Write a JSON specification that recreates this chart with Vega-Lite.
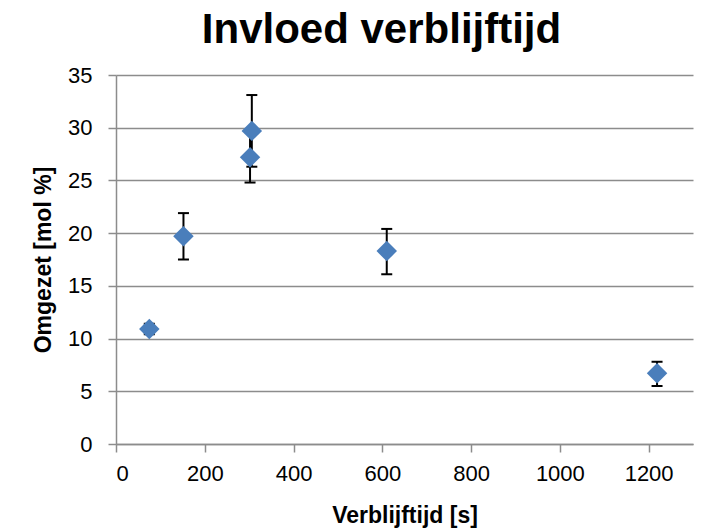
{
  "$schema": "https://vega.github.io/schema/vega-lite/v6.json",
  "width": 577,
  "height": 369,
  "autosize": "none",
  "padding": {"left": 116, "top": 75, "right": 29, "bottom": 87},
  "background": "white",
  "title": {
    "text": "Invloed verblijftijd",
    "font": "Liberation Sans",
    "fontSize": 42,
    "fontWeight": "bold",
    "color": "#000000",
    "anchor": "middle",
    "frame": "group",
    "dx": -23,
    "offset": 12
  },
  "config": {
    "view": {"stroke": null},
    "axis": {
      "domainColor": "#8c8c8c",
      "domainWidth": 1.5,
      "tickColor": "#8c8c8c",
      "tickWidth": 1.5,
      "tickSize": 8,
      "labelFont": "Liberation Sans",
      "labelFontSize": 22,
      "labelColor": "#000000",
      "titleFont": "Liberation Sans",
      "titleFontSize": 23,
      "titleFontWeight": "bold",
      "titleColor": "#000000",
      "gridColor": "#8c8c8c",
      "gridWidth": 1.5
    }
  },
  "data": {
    "values": [
      {"t": 75, "y": 10.9, "lo": 10.4, "hi": 11.4},
      {"t": 152, "y": 19.7, "lo": 17.5, "hi": 21.9},
      {"t": 302, "y": 27.2, "lo": 24.8, "hi": 29.6},
      {"t": 306, "y": 29.7, "lo": 26.3, "hi": 33.1},
      {"t": 610, "y": 18.3, "lo": 16.1, "hi": 20.4},
      {"t": 1219, "y": 6.7, "lo": 5.5, "hi": 7.8}
    ]
  },
  "encoding": {
    "x": {
      "field": "t",
      "type": "quantitative",
      "scale": {"domain": [0, 1300], "nice": false, "zero": true},
      "axis": {
        "title": "Verblijftijd [s]",
        "format": "d",
        "values": [0, 200, 400, 600, 800, 1000, 1200],
        "grid": false,
        "labelPadding": 11,
        "titlePadding": 20
      }
    }
  },
  "layer": [
    {
      "mark": {"type": "rule", "color": "#000000", "strokeWidth": 2},
      "encoding": {
        "y": {
          "field": "lo",
          "type": "quantitative",
          "scale": {"domain": [0, 35], "nice": false},
          "axis": {
            "title": "Omgezet [mol %]",
            "values": [0, 5, 10, 15, 20, 25, 30, 35],
            "grid": true,
            "labelPadding": 16,
            "titlePadding": 12
          }
        },
        "y2": {"field": "hi"}
      }
    },
    {
      "mark": {"type": "tick", "orient": "horizontal", "color": "#000000", "size": 11, "thickness": 2, "opacity": 1},
      "encoding": {"y": {"field": "lo", "type": "quantitative"}}
    },
    {
      "mark": {"type": "tick", "orient": "horizontal", "color": "#000000", "size": 11, "thickness": 2, "opacity": 1},
      "encoding": {"y": {"field": "hi", "type": "quantitative"}}
    },
    {
      "mark": {"type": "point", "shape": "diamond", "filled": true, "size": 420, "color": "#4a7ebb", "opacity": 1},
      "encoding": {"y": {"field": "y", "type": "quantitative"}}
    }
  ]
}
